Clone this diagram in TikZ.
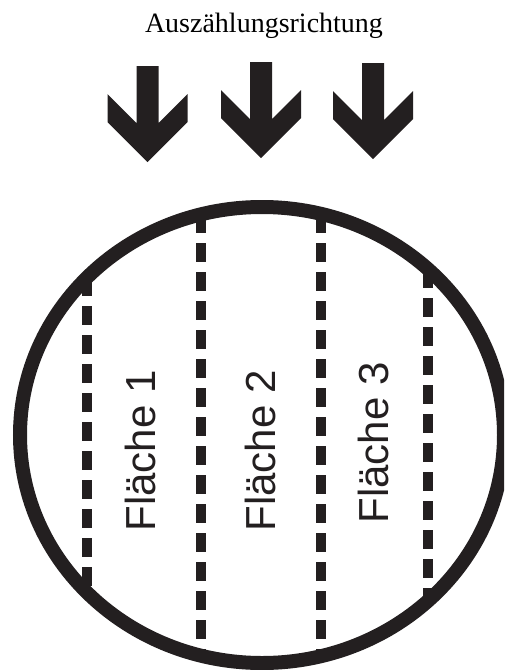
\documentclass[tikz,border=0pt]{standalone}
\usepackage{fontspec}
\setmainfont{Liberation Serif}
\newfontfamily\flfont{Liberation Sans}
\definecolor{ink}{HTML}{231F20}
\tikzset{
  downarrow/.pic={
    \fill[ink] (-11,-28) -- (-11,29) -- (-40,0) -- (-40,28) -- (0,68)
      -- (40,28) -- (40,0) -- (11,29) -- (11,-28) -- cycle;
  },
  divider/.style={draw=ink, line width=10pt, dash pattern=on 19pt off 10pt},
  rim/.style={draw=ink, line width=14pt},
  flabel/.style={rotate=90, anchor=base, inner sep=0pt, font=\flfont\fontsize{42}{42}\selectfont, text=ink},
  title/.style={anchor=base, inner sep=0pt, font=\fontsize{28}{28}\selectfont}
}
\begin{document}
\begin{tikzpicture}[x=1pt, y=-1pt]
\useasboundingbox (0,0) rectangle (504,670);
\clip (0,0) rectangle (504,670);
\node[title] (t) at (264,32) {Auszählungsrichtung};
\pic at (147.5,94) {downarrow};
\pic at (261,90) {downarrow};
\pic at (373,91) {downarrow};
\coordinate (a1) at (87,277);
\coordinate (b1) at (87,593);
\coordinate (a2) at (201,214);
\coordinate (b2) at (201,656);
\coordinate (a3) at (321,214);
\coordinate (b3) at (321,656);
\coordinate (a4) at (428,269);
\coordinate (b4) at (428,601);
\draw[divider] (a1) -- (b1);
\draw[divider] (a2) -- (b2);
\draw[divider] (a3) -- (b3);
\draw[divider] (a4) -- (b4);
\draw[rim] (262,435) ellipse [x radius=242, y radius=228];
\node[flabel] (f1) at (155,451) {Fläche 1};
\node[flabel] (f2) at (275,451) {Fläche 2};
\node[flabel] (f3) at (388,443) {Fläche 3};
\end{tikzpicture}
\end{document}
